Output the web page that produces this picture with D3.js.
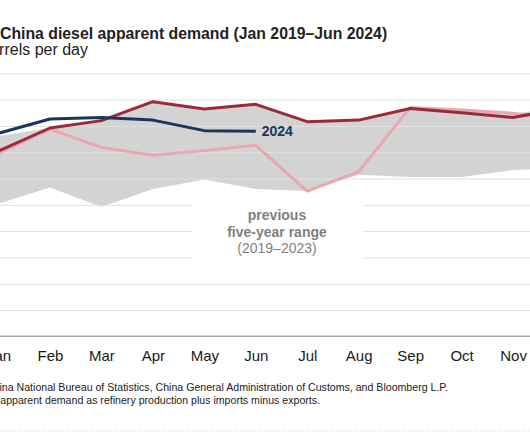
<!DOCTYPE html>
<html>
<head>
<meta charset="utf-8">
<script src="https://cdn.jsdelivr.net/npm/d3@7"></script>
<style>
  html, body { margin: 0; padding: 0; background: #fff; overflow: hidden; }
  svg { display: block; font-family: "Liberation Sans", Arial, Helvetica, sans-serif; }
</style>
</head>
<body>
<svg id="chart" width="530" height="442"></svg>
<script>
// ---- data (million barrels per day) ----
const months = ["Jan","Feb","Mar","Apr","May","Jun","Jul","Aug","Sep","Oct","Nov","Dec"];
const yTicks = [0, 0.5, 1, 1.5, 2, 2.5, 3, 3.5, 4, 4.5, 5];
const demand2024 = [3.86, 4.13, 4.16, 4.11, 3.91, 3.90];
const demand2023 = [3.52, 3.96, 4.10, 4.46, 4.32, 4.41, 4.08, 4.11, 4.33, 4.25, 4.16, 4.34];
const demand2022 = [3.48, 3.94, 3.59, 3.44, 3.53, 3.63, 2.76, 3.13, 4.35, 4.30, 4.24, 4.10];
const rangeHigh  = [3.81, 3.96, 4.10, 4.46, 4.32, 4.41, 4.08, 4.11, 4.35, 4.30, 4.24, 4.34];
const rangeLow   = [2.52, 2.83, 2.46, 2.80, 2.98, 2.80, 2.76, 3.07, 3.03, 3.03, 3.16, 3.19];

const svg = d3.select("#chart");
const W = 530, H = 442;

const x = d3.scalePoint().domain(months).range([-1.5, 564.5]);
const y = d3.scaleLinear().domain([0, 5]).range([336.3, 73.3]);

// gray five-year range band
const bandData = months.map((m, i) => ({ m, lo: rangeLow[i], hi: rangeHigh[i] }));
svg.append("path")
  .datum(bandData)
  .attr("fill", "#d3d3d3")
  .attr("d", d3.area().x(d => x(d.m)).y0(d => y(d.lo)).y1(d => y(d.hi)));

// gridlines (drawn on top of band)
const grid = svg.append("g")
  .attr("transform", "translate(0,0)")
  .call(d3.axisRight(y).tickValues(yTicks.filter(t => t > 0)).tickSize(W).tickFormat(""));
grid.select(".domain").remove();
grid.selectAll("line").attr("stroke", "#e0e0e0").attr("stroke-width", 1);

// white box behind the range label
svg.append("rect")
  .attr("x", 192).attr("y", 194).attr("width", 171).attr("height", 72)
  .attr("fill", "#fff");

// x axis
const xAxis = svg.append("g")
  .attr("transform", "translate(0," + y(0) + ")")
  .call(d3.axisBottom(x).tickSize(0).tickPadding(14));
xAxis.select(".domain").attr("stroke", "#a8a8a8").attr("stroke-width", 1.5)
  .attr("d", "M-10,0H" + (W + 10));
xAxis.selectAll("text")
  .attr("font-size", 15)
  .attr("fill", "#1a1a1a")
  .attr("font-family", "'Liberation Sans', Arial, sans-serif");

// lines
const line = d3.line().x((d, i) => x(months[i])).y(d => y(d));
svg.append("path").datum(demand2022)
  .attr("fill", "none").attr("stroke", "#e9a8b0").attr("stroke-width", 3)
  .attr("stroke-linejoin", "round").attr("d", line);
svg.append("path").datum(demand2023)
  .attr("fill", "none").attr("stroke", "#9b2a3a").attr("stroke-width", 3)
  .attr("stroke-linejoin", "round").attr("d", line);
svg.append("path").datum(demand2024)
  .attr("fill", "none").attr("stroke", "#17385a").attr("stroke-width", 3)
  .attr("stroke-linejoin", "round").attr("d", line);

// 2024 label
svg.append("text")
  .attr("x", x(months[demand2024.length - 1]) + 6)
  .attr("y", y(demand2024[demand2024.length - 1]))
  .attr("dy", "0.35em")
  .attr("font-size", 14).attr("font-weight", "bold").attr("fill", "#17385a")
  .text("2024");

// range label
const rl = svg.append("text").attr("text-anchor", "middle").attr("fill", "#7f7f7f").attr("font-size", 14);
rl.append("tspan").attr("x", 277).attr("y", 220).attr("font-weight", "bold").text("previous");
rl.append("tspan").attr("x", 277).attr("y", 236.5).attr("font-weight", "bold").text("five-year range");
rl.append("tspan").attr("x", 277).attr("y", 253).text("(2019\u20132023)");

// title and subtitle (cropped on the left)
svg.append("text")
  .attr("x", 0).attr("y", 39)
  .attr("font-size", 15.8).attr("font-weight", "bold").attr("fill", "#222")
  .text("China diesel apparent demand (Jan 2019\u2013Jun 2024)");
svg.append("text")
  .attr("x", 88).attr("y", 55).attr("text-anchor", "end")
  .attr("font-size", 16).attr("fill", "#222")
  .text("million barrels per day");

// footnotes (cropped on the left)
svg.append("text")
  .attr("x", 448).attr("y", 391).attr("text-anchor", "end")
  .attr("font-size", 10.6).attr("fill", "#222")
  .text("Source: China National Bureau of Statistics, China General Administration of Customs, and Bloomberg L.P.");
svg.append("text")
  .attr("x", 320).attr("y", 403.5).attr("text-anchor", "end")
  .attr("font-size", 10.6).attr("fill", "#222")
  .text("Note: We define apparent demand as refinery production plus imports minus exports.");

// dotted rule at bottom
svg.append("line")
  .attr("x1", 0).attr("x2", W).attr("y1", 431).attr("y2", 431)
  .attr("stroke", "#cfcfcf").attr("stroke-width", 1).attr("stroke-dasharray", "1,2");
</script>
</body>
</html>
